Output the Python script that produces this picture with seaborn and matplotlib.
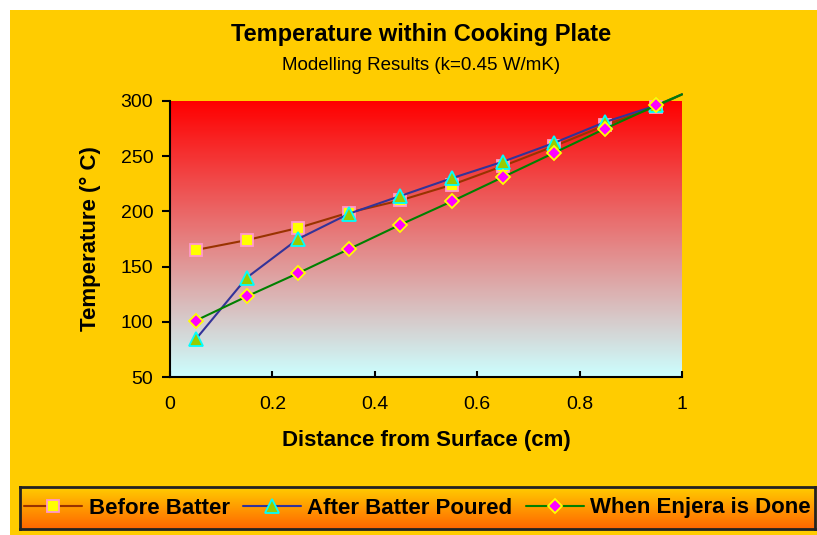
import numpy as np
import pandas as pd
import matplotlib
matplotlib.use('Agg')
import matplotlib.pyplot as plt
import seaborn as sns
from matplotlib.colors import LinearSegmentedColormap
from matplotlib.lines import Line2D
from matplotlib.patches import Rectangle

# distance from surface (cm); last point is the plate bottom (no marker)
distance = [0.05, 0.15, 0.25, 0.35, 0.45, 0.55, 0.65, 0.75, 0.85, 0.95, 1.0]
before_batter = [165, 174, 185, 199, 210, 224, 241, 259, 278, 295, 306]
after_poured = [84, 140, 175, 198, 214, 230, 245, 262, 281, 296, 306]
enjera_done = [101, 123, 144, 166, 188, 209, 231, 253, 275, 296, 306]

series_names = ['Before Batter', 'After Batter Poured', 'When Enjera is Done']
x_ticks = [0, 0.2, 0.4, 0.6, 0.8, 1]
x_tick_labels = ['0', '0.2', '0.4', '0.6', '0.8', '1']
y_ticks = [50, 100, 150, 200, 250, 300]

sns.set_theme(style='white')
plt.rcParams['font.family'] = ['Liberation Sans', 'DejaVu Sans']
plt.rcParams['text.color'] = 'black'
plt.rcParams['axes.labelcolor'] = 'black'
plt.rcParams['xtick.color'] = 'black'
plt.rcParams['ytick.color'] = 'black'

W, H = 817, 535
fig = plt.figure(figsize=(W / 100, H / 100), dpi=100)
fig.patch.set_facecolor('white')
fig.patches.append(Rectangle((10 / W, 0), 1, (H - 10) / H, transform=fig.transFigure,
                             facecolor='#FFCC00', edgecolor='none', zorder=-10))

ax = fig.add_axes([170 / W, 1 - 377 / H, 512 / W, 276 / H])
ax.set_facecolor('none')

# plot area gradient red -> light cyan
grad = LinearSegmentedColormap.from_list('plate', ['#CCFFFF', '#FF0000'])
ax.imshow(np.linspace(0, 1, 256).reshape(-1, 1), cmap=grad, origin='lower',
          extent=[0, 1, 0, 1], transform=ax.transAxes, aspect='auto', zorder=0)

df = pd.DataFrame({'distance': distance, 'Before Batter': before_batter,
                   'After Batter Poured': after_poured, 'When Enjera is Done': enjera_done})

styles = {
    'Before Batter': dict(color='#993300', marker='s', markersize=8,
                          markerfacecolor='#FFFF00', markeredgecolor='#FF99CC'),
    'After Batter Poured': dict(color='#333399', marker='^', markersize=10,
                                markerfacecolor='#99CC00', markeredgecolor='#00FFFF'),
    'When Enjera is Done': dict(color='#008000', marker='D', markersize=7.5,
                                markerfacecolor='#FF00FF', markeredgecolor='#FFFF00'),
}

for name in series_names:
    sns.lineplot(data=df, x='distance', y=name, ax=ax, lw=1.5, markeredgewidth=1.3,
                 markevery=list(range(10)), clip_on=False, zorder=3, **styles[name])

ax.set_xlim(0, 1)
ax.set_ylim(50, 300)
ax.set_xticks(x_ticks)
ax.set_xticklabels(x_tick_labels)
ax.set_yticks(y_ticks)
for s in ['top', 'right']:
    ax.spines[s].set_visible(False)
for s in ['left', 'bottom']:
    ax.spines[s].set_color('black')
    ax.spines[s].set_linewidth(1.5)
ax.tick_params(axis='y', direction='out', length=6, width=1.5, color='black',
               labelsize=14, pad=6, left=True)
ax.tick_params(axis='x', direction='in', length=4, width=1.5, color='black',
               labelsize=14, pad=14, bottom=True)
ax.set_xlabel('Distance from Surface (cm)', fontsize=16, fontweight='bold', labelpad=12)
ax.set_ylabel('Temperature (° C)', fontsize=16, fontweight='bold', labelpad=14)

fig.text(421 / W, 1 - 34 / H, 'Temperature within Cooking Plate', ha='center', va='center',
         fontsize=17, fontweight='bold')
fig.text(421 / W, 1 - 65 / H, 'Modelling Results (k=0.45 W/mK)', ha='center', va='center',
         fontsize=13.5)

# legend box with yellow -> orange gradient
lax = fig.add_axes([20 / W, 1 - 529 / H, 795 / W, 42 / H])
lgrad = LinearSegmentedColormap.from_list('leg', ['#FF6600', '#FFCC00'])
lax.imshow(np.linspace(0, 1, 64).reshape(-1, 1), cmap=lgrad, origin='lower',
           extent=[0, 1, 0, 1], aspect='auto')
lax.set_xticks([])
lax.set_yticks([])
for s in lax.spines.values():
    s.set_color('#222222')
    s.set_linewidth(2)
    s.set_visible(True)

handles = [Line2D([], [], lw=1.5, markeredgewidth=1.3, **styles[n]) for n in series_names]
leg = lax.legend(handles, series_names, loc='center', ncol=3, frameon=False,
                 handlelength=2.6, handletextpad=0.3, columnspacing=0.6,
                 prop=dict(size=16, weight='bold'), borderaxespad=0)

fig.savefig('out.png', dpi=100, facecolor=fig.get_facecolor())
